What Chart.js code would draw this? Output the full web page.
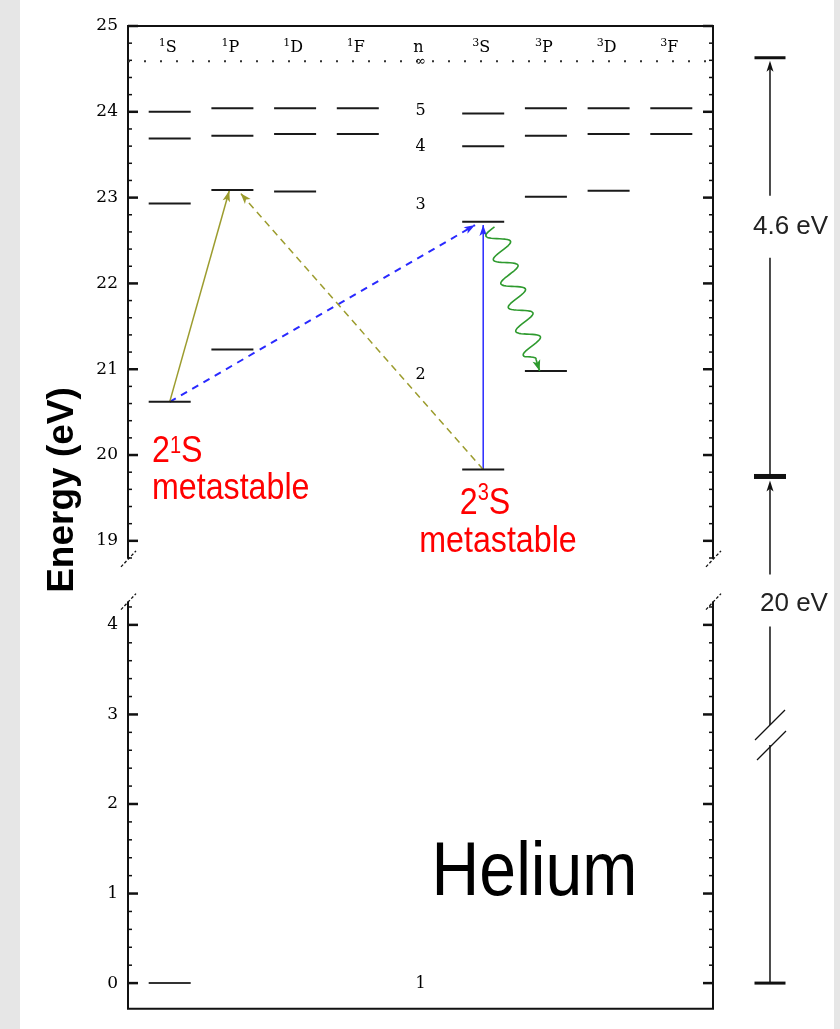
<!DOCTYPE html>
<html>
<head>
<meta charset="utf-8">
<title>Helium energy levels</title>
<script src="https://cdn.jsdelivr.net/npm/chart.js@4.4.1/dist/chart.umd.min.js"></script>
<style>
  html, body { margin: 0; padding: 0; }
  body {
    width: 840px; height: 1029px; overflow: hidden;
    background: linear-gradient(to right, #e6e6e6 0 20px, #ffffff 20px 834px, #e6e6e6 834px 840px);
  }
  canvas { display: block; }
</style>
</head>
<body>
<canvas id="levels" width="840" height="1029"></canvas>
<script>
'use strict';

// Helium term diagram — energies in eV.
// Column index = position on the (hidden) x scale.
const COLUMN_SUP  = ['1', '1', '1', '1', '',  '3', '3', '3', '3'];
const COLUMN_TERM = ['S', 'P', 'D', 'F', 'n', 'S', 'P', 'D', 'F'];

const LEVELS_1S = [20.62, 22.93, 23.69, 24.00];
const LEVELS_1P = [21.23, 23.09, 23.72, 24.04];
const LEVELS_1D = [23.07, 23.74, 24.04];
const LEVELS_1F = [23.74, 24.04];
const LEVELS_3S = [19.83, 22.72, 23.60, 23.98];
const LEVELS_3P = [20.98, 23.01, 23.72, 24.04];
const LEVELS_3D = [23.08, 23.74, 24.04];
const LEVELS_3F = [23.74, 24.04];
const GROUND_1S = [0];
const IONIZATION = 24.59;

const N_LABELS = ['5', '4', '3', '2', '1'];
const N_ENERGY = [24.01, 23.59, 22.92, 20.94, -0.01];
const N_AXIS   = ['yTop', 'yTop', 'yTop', 'yTop', 'yBot'];

// excitation / transfer arrows: [column, energy]
const TRANSITION_FROM  = [[0, 20.62], [5.0, 19.83], [0, 20.62], [5.0, 19.83]];
const TRANSITION_TO    = [[0.95, 23.08], [1.13, 23.05], [4.87, 22.68], [5.0, 22.68]];
const TRANSITION_COLOR = ['#9c9c2e', '#9c9c2e', '#2a2aff', '#2a2aff'];
const TRANSITION_DASH  = [[], [7, 5], [7, 6], []];
const DECAY_FROM = [5.18, 22.66];
const DECAY_TO   = [5.90, 20.98];

// energy scale bar on the right
const SCALE_BAR_X = 9.574;
const SCALE_BAR_TOP = 24.63;     // upper scale
const SCALE_BAR_MID = 19.75;     // upper scale
const SCALE_BAR_BOTTOM = 0;      // lower scale
const SCALE_BAR_TEXT = ['4.6 eV', '20 eV'];
const SCALE_BAR_TEXT_E = [22.66, 4.24];
const SCALE_BAR_BREAK = 2.77;

// broken energy axis
const X_RANGE = [-0.665, 8.665];
const TOP_SCALE = [18.558, 25];
const BOT_SCALE = [-0.287, 4.515];
const TOP_AXIS = [18.79, 25];
const BOT_AXIS = [-0.287, 4.26];
const HEADER_ENERGY = 24.70;
const LEVEL_HALF = 0.335;

function levelSegments(groups) {
  const pts = [];
  groups.forEach(([col, energies]) => energies.forEach(e => {
    pts.push({ x: col - LEVEL_HALF, y: e }, { x: col + LEVEL_HALF, y: e }, { x: col, y: null });
  }));
  return pts;
}

function tickLabel(range) {
  return (value) => {
    if (value < range[0] - 1e-6 || value > range[1] + 1e-6) return '';
    return Math.abs(value - Math.round(value)) < 1e-6 ? String(Math.round(value)) : '';
  };
}

function energyAxis(range, axisRange, heightPx, order) {
  return {
    type: 'linear', position: 'left', stack: 'energy', stackWeight: heightPx, weight: order,
    min: range[0], max: range[1],
    grid: { display: false, drawTicks: false },
    border: { display: false },
    ticks: {
      stepSize: 0.2, autoSkip: false, padding: 10, color: '#000',
      font: { family: "'DejaVu Serif'", size: 17 },
      callback: tickLabel(axisRange),
    },
    afterFit(scale) { scale.width = 128; },
  };
}

function line(ctx, x0, y0, x1, y1) {
  ctx.beginPath(); ctx.moveTo(x0, y0); ctx.lineTo(x1, y1); ctx.stroke();
}

function arrowHead(ctx, x0, y0, x1, y1, len, half, color) {
  const a = Math.atan2(y1 - y0, x1 - x0);
  ctx.save();
  ctx.translate(x1, y1); ctx.rotate(a);
  ctx.beginPath();
  ctx.moveTo(0, 0); ctx.lineTo(-len, -half); ctx.lineTo(-len * 0.75, 0); ctx.lineTo(-len, half);
  ctx.closePath();
  ctx.fillStyle = color; ctx.fill();
  ctx.restore();
}

function drawRich(ctx, parts, x, y, opt) {
  const { size, supSize, raise, family, weight, color, align, sx } = opt;
  const fontFor = sup => [weight, (sup ? supSize : size) + 'px', family].filter(Boolean).join(' ');
  ctx.save();
  ctx.fillStyle = color;
  ctx.textAlign = 'left';
  ctx.textBaseline = opt.baseline || 'alphabetic';
  const widths = parts.map(([t, sup]) => { ctx.font = fontFor(sup); return ctx.measureText(t).width; });
  const total = widths.reduce((s, w) => s + w, 0);
  ctx.translate(x, y);
  ctx.scale(sx || 1, 1);
  let cx = align === 'center' ? -total / 2 : 0;
  parts.forEach(([t, sup], i) => {
    ctx.font = fontFor(sup);
    ctx.fillText(t, cx, sup ? -raise : 0);
    cx += widths[i];
  });
  ctx.restore();
}

const framePlugin = {
  id: 'brokenFrame',
  beforeDatasetsDraw(chart) {
    const { ctx, chartArea: a, scales } = chart;
    const parts = [[scales.yTop, TOP_AXIS], [scales.yBot, BOT_AXIS]];
    ctx.save();
    ctx.strokeStyle = '#111';
    ctx.lineWidth = 2;
    line(ctx, a.left - 1, a.top, a.right + 1, a.top);
    line(ctx, a.left - 1, a.bottom, a.right + 1, a.bottom);
    for (const x of [a.left, a.right]) {
      for (const [s, r] of parts) line(ctx, x, s.getPixelForValue(r[1]), x, s.getPixelForValue(r[0]));
    }
    // tick marks, pointing inwards on both sides
    for (const [s, r] of parts) {
      for (const t of s.ticks) {
        const v = t.value;
        if (v < r[0] - 1e-6 || v > r[1] + 1e-6) continue;
        if (Math.abs(v * 5 - Math.round(v * 5)) > 1e-6) continue;
        const major = Math.abs(v - Math.round(v)) < 1e-6;
        const y = s.getPixelForValue(v);
        ctx.lineWidth = major ? 2.5 : 1.5;
        const len = major ? 10 : 4;
        line(ctx, a.left, y, a.left + len, y);
        line(ctx, a.right, y, a.right - len, y);
      }
    }
    // break marks
    ctx.lineWidth = 1.3;
    ctx.setLineDash([3, 2]);
    const breaks = [scales.yTop.getPixelForValue(TOP_AXIS[0]), scales.yBot.getPixelForValue(BOT_AXIS[1])];
    for (const x of [a.left, a.right]) {
      for (const y of breaks) line(ctx, x - 7, y + 8, x + 8, y - 8);
    }
    ctx.restore();
  },
};

const arrowPlugin = {
  id: 'arrows',
  afterDatasetsDraw(chart) {
    const { ctx } = chart;
    chart.data.datasets.forEach((ds, i) => {
      const pts = chart.getDatasetMeta(i).data;
      if (ds.arrow) {
        const p0 = pts[pts.length - 2], p1 = pts[pts.length - 1];
        arrowHead(ctx, p0.x, p0.y, p1.x, p1.y, 11, 3.8, ds.borderColor);
      }
      if (ds.decay) {
        const p0 = pts[0], p1 = pts[1];
        const dx = p1.x - p0.x, dy = p1.y - p0.y;
        const L = Math.hypot(dx, dy);
        const ux = dx / L, uy = dy / L, nx = -uy, ny = ux;
        const waveLen = L - 12, period = 25, amp = 11;
        ctx.save();
        ctx.strokeStyle = ds.waveColor; ctx.lineWidth = 1.6; ctx.lineJoin = 'round';
        ctx.beginPath();
        ctx.moveTo(p0.x, p0.y);
        for (let t = 1; t <= waveLen; t += 1) {
          const o = amp * Math.sin(2 * Math.PI * t / period) * Math.min(1, (waveLen - t) / 6);
          ctx.lineTo(p0.x + ux * t + nx * o, p0.y + uy * t + ny * o);
        }
        ctx.lineTo(p1.x, p1.y);
        ctx.stroke();
        ctx.restore();
        arrowHead(ctx, p0.x, p0.y, p1.x, p1.y, 11, 4, ds.waveColor);
      }
    });
  },
};

const labelPlugin = {
  id: 'labels',
  afterDatasetsDraw(chart) {
    const { ctx, scales: { x, yTop, yBot } } = chart;
    const serif = "'DejaVu Serif'";
    const sans = "'Liberation Sans', Arial, sans-serif";
    // column headers
    COLUMN_TERM.forEach((term, i) => {
      const parts = COLUMN_SUP[i] ? [[COLUMN_SUP[i], true], [term, false]] : [[term, false]];
      drawRich(ctx, parts, x.getPixelForValue(i) - 2, yTop.getPixelForValue(HEADER_ENERGY),
        { size: 16, supSize: 11, raise: 6, family: serif, color: '#000', align: 'center' });
    });
    drawRich(ctx, [['∞', false]], x.getPixelForValue(4), yTop.getPixelForValue(IONIZATION),
      { size: 13, family: serif, color: '#000', align: 'center', baseline: 'middle' });
    // principal quantum numbers
    N_LABELS.forEach((n, i) => {
      const s = N_AXIS[i] === 'yTop' ? yTop : yBot;
      drawRich(ctx, [[n, false]], x.getPixelForValue(4), s.getPixelForValue(N_ENERGY[i]),
        { size: 16, family: serif, color: '#000', align: 'center', baseline: 'middle' });
    });
    // metastable states
    const red = { size: 37, supSize: 23, family: sans, color: '#ff0000', sx: 0.87 };
    drawRich(ctx, [['2', false], ['1', true], ['S', false]], x.getPixelForValue(-0.282), yTop.getPixelForValue(19.92),
      Object.assign({ raise: 9 }, red));
    drawRich(ctx, [['metastable', false]], x.getPixelForValue(-0.282), yTop.getPixelForValue(19.49), red);
    drawRich(ctx, [['2', false], ['3', true], ['S', false]], x.getPixelForValue(5.029), yTop.getPixelForValue(19.31),
      Object.assign({ raise: 14, align: 'center' }, red));
    drawRich(ctx, [['metastable', false]], x.getPixelForValue(5.236), yTop.getPixelForValue(18.87),
      Object.assign({ align: 'center' }, red));
    drawRich(ctx, [['Helium', false]], x.getPixelForValue(5.818), yBot.getPixelForValue(0.98),
      { size: 76, family: sans, color: '#000', align: 'center', sx: 0.87 });
  },
  afterDraw(chart) {
    const { ctx } = chart;
    ctx.save();
    ctx.translate(73, 490);
    ctx.rotate(-Math.PI / 2);
    ctx.font = "bold 37px 'Liberation Sans', Arial, sans-serif";
    ctx.fillStyle = '#000';
    ctx.textAlign = 'center';
    ctx.textBaseline = 'alphabetic';
    ctx.fillText('Energy (eV)', 0, 0);
    ctx.restore();
  },
};

const scaleBarPlugin = {
  id: 'scaleBar',
  afterDraw(chart) {
    const { ctx, scales: { x, yTop, yBot } } = chart;
    const cx = x.getPixelForValue(SCALE_BAR_X);
    const yA = yTop.getPixelForValue(SCALE_BAR_TOP);
    const yM = yTop.getPixelForValue(SCALE_BAR_MID);
    const yZ = yBot.getPixelForValue(SCALE_BAR_BOTTOM);
    const t1 = yTop.getPixelForValue(SCALE_BAR_TEXT_E[0]);
    const t2 = yBot.getPixelForValue(SCALE_BAR_TEXT_E[1]);
    const br = yBot.getPixelForValue(SCALE_BAR_BREAK);
    ctx.save();
    ctx.strokeStyle = '#111';
    ctx.fillStyle = '#111';
    ctx.fillRect(cx - 15.5, yA - 1.5, 31, 3);
    ctx.fillRect(cx - 16, yM - 2.5, 32, 5);
    ctx.fillRect(cx - 15.5, yZ - 1.5, 31, 3);
    ctx.lineWidth = 1.5;
    line(ctx, cx, yM, cx, t1 + 31);
    line(ctx, cx, t1 - 31, cx, yA + 6);
    arrowHead(ctx, cx, yA + 30, cx, yA + 3, 11, 3.5, '#111');
    line(ctx, cx, yZ, cx, br + 10);
    line(ctx, cx, br - 10, cx, t2 + 23);
    line(ctx, cx, t2 - 29, cx, yM + 8);
    arrowHead(ctx, cx, yM + 40, cx, yM + 4, 11, 3.5, '#111');
    ctx.lineWidth = 1.3;
    line(ctx, cx - 15, br - 10 + 15, cx + 15, br - 10 - 15);
    line(ctx, cx - 13, br + 10 + 15, cx + 16, br + 10 - 14);
    ctx.font = "26px 'Liberation Sans', Arial, sans-serif";
    ctx.fillStyle = '#222';
    ctx.textAlign = 'left';
    ctx.textBaseline = 'middle';
    ctx.fillText(SCALE_BAR_TEXT[0], cx - 17, t1);
    ctx.fillText(SCALE_BAR_TEXT[1], cx - 10, t2);
    ctx.restore();
  },
};

const datasets = [
  {
    data: levelSegments([[0, LEVELS_1S], [1, LEVELS_1P], [2, LEVELS_1D], [3, LEVELS_1F],
                         [5, LEVELS_3S], [6, LEVELS_3P], [7, LEVELS_3D], [8, LEVELS_3F]]),
    yAxisID: 'yTop', borderColor: '#1a1a1a', borderWidth: 2, spanGaps: false,
  },
  {
    data: levelSegments([[0, GROUND_1S]]),
    yAxisID: 'yBot', borderColor: '#333', borderWidth: 2, spanGaps: false,
  },
  {
    data: [{ x: X_RANGE[0], y: IONIZATION }, { x: X_RANGE[1], y: IONIZATION }],
    yAxisID: 'yTop', borderColor: '#333', borderWidth: 2, borderDash: [2, 14],
  },
];
TRANSITION_FROM.forEach((from, i) => {
  datasets.push({
    data: [{ x: from[0], y: from[1] }, { x: TRANSITION_TO[i][0], y: TRANSITION_TO[i][1] }],
    yAxisID: 'yTop', borderColor: TRANSITION_COLOR[i], borderWidth: i === 2 ? 2 : 1.5,
    borderDash: TRANSITION_DASH[i], arrow: true,
  });
});
datasets.push({
  data: [{ x: DECAY_FROM[0], y: DECAY_FROM[1] }, { x: DECAY_TO[0], y: DECAY_TO[1] }],
  yAxisID: 'yTop', showLine: false, decay: true, waveColor: '#2e9a2e',
});

new Chart(document.getElementById('levels'), {
  type: 'line',
  data: { datasets },
  options: {
    responsive: false,
    animation: false,
    events: [],
    layout: { padding: { left: 0, right: 127, top: 26, bottom: 18 } },
    plugins: { legend: { display: false }, tooltip: { enabled: false } },
    elements: { point: { radius: 0 }, line: { tension: 0 } },
    scales: {
      x: { type: 'linear', display: false, min: X_RANGE[0], max: X_RANGE[1] },
      yTop: energyAxis(TOP_SCALE, TOP_AXIS, 554, 1),
      yBot: energyAxis(BOT_SCALE, BOT_AXIS, 431, 0),
    },
  },
  plugins: [framePlugin, arrowPlugin, labelPlugin, scaleBarPlugin],
});
</script>
</body>
</html>
